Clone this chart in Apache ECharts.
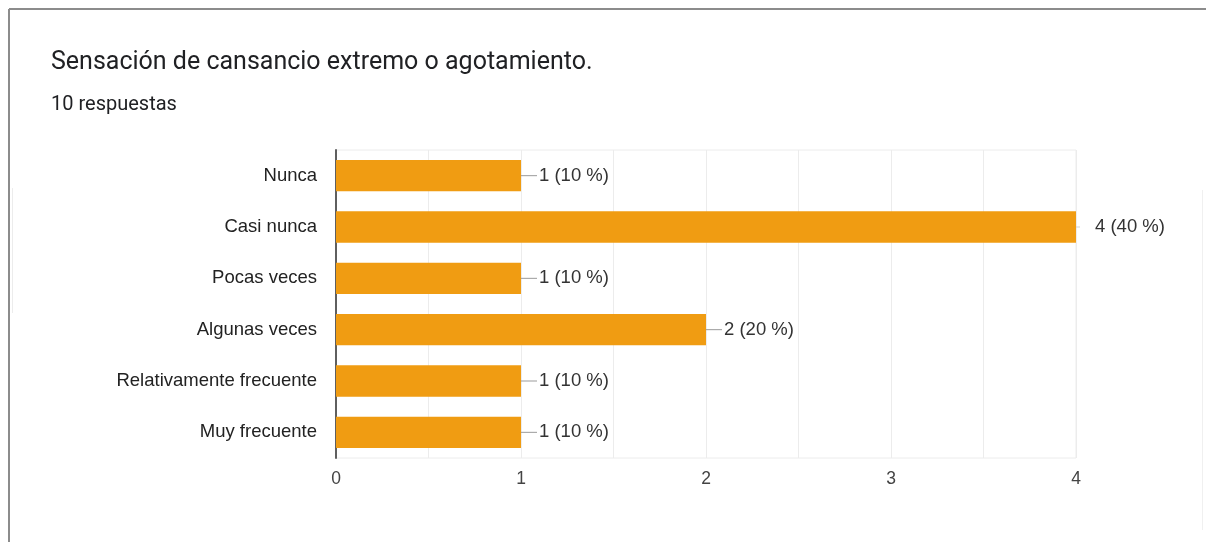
<!DOCTYPE html>
<html>
<head>
<meta charset="utf-8">
<script src="https://cdn.jsdelivr.net/npm/echarts@6/dist/echarts.min.js"></script>
<style>
  html, body { margin: 0; padding: 0; background: #fff; }
  #chart { width: 1206px; height: 542px; }
</style>
</head>
<body>
<div id="chart"></div>
<script>
// Survey answers, top to bottom as listed on the form
const categories = ['Nunca', 'Casi nunca', 'Pocas veces', 'Algunas veces', 'Relativamente frecuente', 'Muy frecuente'];
const counts = [1, 4, 1, 2, 1, 1];
const totalResponses = 10;
const xTicks = [0, 1, 2, 3, 4];

const titleText = 'Sensación de cansancio extremo o agotamiento.';
const subtitleText = totalResponses + ' respuestas';

const maxCount = Math.max(...counts);
const sans = 'Liberation Sans, Arial, sans-serif';
const chart = echarts.init(document.getElementById('chart'), null, { renderer: 'canvas' });

chart.setOption({
  backgroundColor: '#fff',
  animation: false,
  graphic: [
    // card outline
    { type: 'line', shape: { x1: 9, y1: 9, x2: 1206, y2: 9 }, style: { stroke: '#8c8c8c', lineWidth: 2 } },
    { type: 'line', shape: { x1: 9, y1: 9, x2: 9, y2: 542 }, style: { stroke: '#8c8c8c', lineWidth: 2 } },
    { type: 'line', shape: { x1: 1202.5, y1: 190, x2: 1202.5, y2: 530 }, style: { stroke: '#f0f0f0', lineWidth: 1 } },
    { type: 'line', shape: { x1: 12.5, y1: 188, x2: 12.5, y2: 313 }, style: { stroke: '#ececec', lineWidth: 1 } }
  ],
  title: [
    {
      text: titleText, left: 46, top: 45,
      textStyle: { fontFamily: 'Roboto', fontSize: 25, fontWeight: 'normal', color: '#202124' }
    },
    {
      text: subtitleText, left: 46, top: 90,
      textStyle: { fontFamily: 'Roboto', fontSize: 20, fontWeight: 'normal', color: '#202124' }
    }
  ],
  grid: { left: 336, right: 130, top: 150, bottom: 84, show: true, borderColor: '#ececec', borderWidth: 1 },
  xAxis: {
    type: 'value', min: 0, max: xTicks[xTicks.length - 1], interval: 0.5,
    axisLine: { show: false }, axisTick: { show: false },
    splitLine: { lineStyle: { color: '#ececec', width: 1 } },
    axisLabel: {
      margin: 12, color: '#444', fontFamily: sans, fontSize: 17.5,
      formatter: v => (xTicks.indexOf(v) >= 0 ? String(v) : '')
    }
  },
  yAxis: {
    type: 'category', data: categories, inverse: true,
    axisLine: { show: true, lineStyle: { color: '#5f5f5f', width: 2 } },
    axisTick: { show: false },
    axisLabel: { margin: 19, color: '#222', fontFamily: sans, fontSize: 18.5 }
  },
  series: [{
    type: 'bar',
    data: counts,
    barCategoryGap: '39%',
    itemStyle: { color: '#f09c12' },
    label: {
      show: true, position: 'right', distance: 0,
      fontFamily: sans, fontSize: 18.5, color: '#333',
      formatter: p => {
        const pct = Math.round(p.value / totalResponses * 100);
        const txt = p.value + ' (' + pct + ' %)';
        return p.value === maxCount ? '{s|}{g|}{t|' + txt + '}' : '{l|}{t|' + txt + '}';
      },
      rich: {
        l: { width: 16, height: 1, backgroundColor: '#9a9a9a' },
        s: { width: 4, height: 1, backgroundColor: '#d0d0d0' },
        g: { width: 13, height: 1 },
        t: { padding: [0, 0, 0, 2], fontFamily: sans, fontSize: 18.5, color: '#333' }
      }
    }
  }]
});
</script>
</body>
</html>
